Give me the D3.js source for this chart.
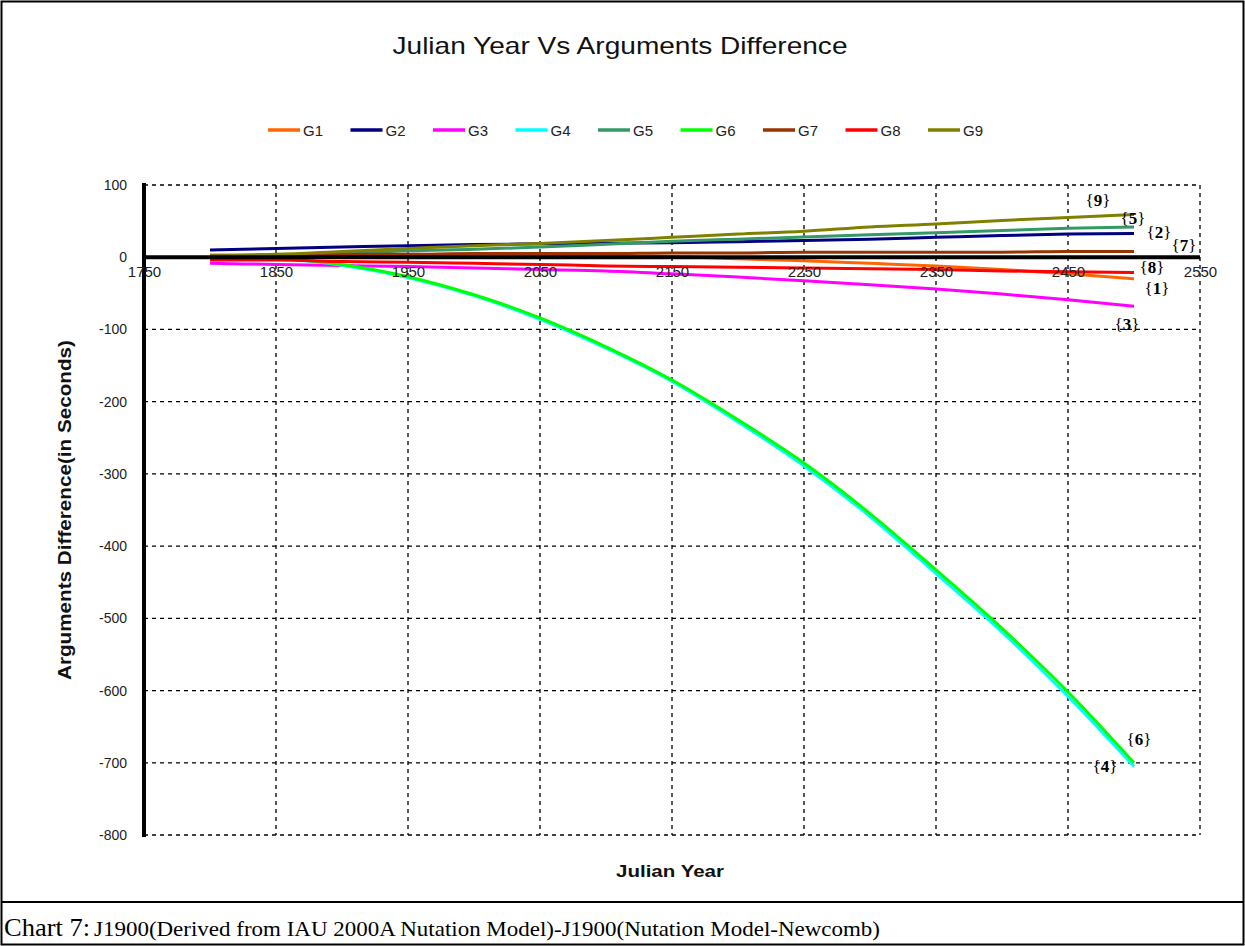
<!DOCTYPE html>
<html><head><meta charset="utf-8">
<script src="https://cdn.jsdelivr.net/npm/d3@7"></script>
<style>
html,body{margin:0;padding:0;background:#fff;}
svg{display:block;}
</style></head>
<body>
<svg id="c" width="1245" height="946"></svg>
<script>
// ---- data ----
const years = [1800,1850,1900,1950,2000,2050,2100,2150,2200,2250,2300,2350,2400,2450,2500];
const seriesNames = ["G1","G2","G3","G4","G5","G6","G7","G8","G9"];
const seriesColors = ["#FF6600","#000080","#FF00FF","#00FFFF","#339966","#00FF00","#993300","#FF0000","#808000"];
const G1 = [3,3,3,3,3,3,2,1,-2,-5,-8.5,-12,-17,-23,-30];
const G2 = [10,12,14,16,17.5,18.5,19.5,20,21.5,23,25,27.5,30,32,33];
const G3 = [-8.5,-10,-11.5,-13,-15,-17,-19,-23,-27.5,-32.5,-38,-44,-51,-59,-68];
const G4 = [-1,-2,-11,-28,-53,-86,-126,-172,-228,-289,-359,-438,-519,-608,-705];
const G5 = [0,1,5,9,11,14,18,22,25,28,31,34,37,40,42];
const G6 = [-1,-2,-10,-27,-52,-84,-124,-170,-225,-285,-355,-433,-514,-602,-700];
const G7 = [2,3,4,4,5,5,5,6,6,7,7,7,7,8,8];
const G8 = [-4,-4,-6,-7,-8.5,-10,-12,-13,-14,-15,-16,-17,-19,-20,-21];
const G9 = [2,4,8,12,16,19,23,27.5,32,36,42,46,51,55,59];
const seriesValues = [G1,G2,G3,G4,G5,G6,G7,G8,G9];
const xTicks = [1750,1850,1950,2050,2150,2250,2350,2450,2550];
const yTicks = [100,0,-100,-200,-300,-400,-500,-600,-700,-800];
const endLabels = ["1","2","3","4","5","6","7","8","9"];
// label offsets (px) from each series' last point
const labelOffsets = [[23,9],[25,-1],[-7,18],[-29,0],[-1,-9],[5,-24],[50,-6],[18,-5],[-36,-15]];

const svg = d3.select("#c");
const W = 1245, H = 946;
const SANS = "Liberation Sans, Arial, sans-serif";
const SERIF = "Liberation Serif, Times New Roman, serif";

// outer frame and caption separator
svg.append("rect").attr("x",1.5).attr("y",1.5).attr("width",W-3).attr("height",H-3)
  .attr("fill","none").attr("stroke","#000").attr("stroke-width",2);
svg.append("line").attr("x1",1).attr("x2",W-1).attr("y1",902).attr("y2",902)
  .attr("stroke","#000").attr("stroke-width",2);

const x = d3.scaleLinear().domain([1750,2550]).range([144,1200]);
const y = d3.scaleLinear().domain([100,-800]).range([185,835]);

// title
svg.append("text").attr("x",620).attr("y",54).attr("text-anchor","middle")
  .attr("font-family",SANS).attr("font-size",24)
  .attr("textLength",455).attr("lengthAdjust","spacingAndGlyphs")
  .attr("fill","#111").text("Julian Year Vs Arguments Difference");

// legend
const leg = svg.append("g");
seriesNames.forEach((n,i)=>{
  const lx = 268 + i*82.5;
  leg.append("line").attr("x1",lx).attr("x2",lx+32).attr("y1",130).attr("y2",130)
    .attr("stroke",seriesColors[i]).attr("stroke-width",3.5);
  leg.append("text").attr("x",lx+35).attr("y",135.5).attr("font-family",SANS)
    .attr("font-size",15).attr("fill","#222").text(n);
});

// grid
const grid = svg.append("g").attr("stroke","#000").attr("stroke-width",1.3).attr("stroke-dasharray","4,4");
xTicks.filter(t=>t!==1750).forEach(t=>{
  grid.append("line").attr("x1",x(t)).attr("x2",x(t)).attr("y1",y(100)).attr("y2",y(-800));
});
yTicks.filter(t=>t!==0).forEach(t=>{
  grid.append("line").attr("x1",x(1750)).attr("x2",x(2550)).attr("y1",y(t)).attr("y2",y(t));
});

// y axis
const yAxis = d3.axisLeft(y).tickValues(yTicks).tickSize(0).tickPadding(17).tickFormat(d=>String(d));
const gy = svg.append("g").attr("transform",`translate(${x(1750)},0)`).call(yAxis);
gy.select(".domain").remove();
gy.selectAll("text").attr("font-family",SANS).attr("font-size",14).attr("fill","#222");

// series lines
const line = d3.line().x((d,i)=>x(years[i])).y(d=>y(d)).curve(d3.curveMonotoneX);
seriesValues.forEach((vals,i)=>{
  svg.append("path").datum(vals).attr("d",line).attr("fill","none")
    .attr("stroke",seriesColors[i]).attr("stroke-width",3).attr("stroke-linejoin","round");
});

// thick axes lines
svg.append("line").attr("x1",x(1750)).attr("x2",x(2550)).attr("y1",y(0)).attr("y2",y(0))
  .attr("stroke","#000").attr("stroke-width",4);
svg.append("line").attr("x1",x(1750)).attr("x2",x(1750)).attr("y1",y(100)-2).attr("y2",y(-800)+2)
  .attr("stroke","#000").attr("stroke-width",4);

// x axis tick labels
const xAxis = d3.axisBottom(x).tickValues(xTicks).tickSize(0).tickPadding(9).tickFormat(d=>String(d));
const gx = svg.append("g").attr("transform",`translate(0,${y(0)})`).call(xAxis);
gx.select(".domain").remove();
gx.selectAll("text").attr("font-family",SANS).attr("font-size",15).attr("fill","#222");

// end labels
seriesValues.forEach((vals,i)=>{
  const ex = x(years[years.length-1]) + labelOffsets[i][0];
  const ey = y(vals[vals.length-1]) + labelOffsets[i][1];
  const t = svg.append("text").attr("x",ex).attr("y",ey+6).attr("text-anchor","middle")
    .attr("font-family",SERIF).attr("font-size",17).attr("fill","#000");
  t.append("tspan").attr("font-weight","normal").text("{");
  t.append("tspan").attr("font-weight","bold").text(endLabels[i]);
  t.append("tspan").attr("font-weight","normal").text("}");
});

// axis titles
svg.append("text").attr("transform",`translate(71,${(y(100)+y(-800))/2}) rotate(-90)`)
  .attr("text-anchor","middle").attr("font-family",SANS)
  .attr("font-weight","bold").attr("font-size",18).attr("fill","#111")
  .attr("textLength",340).attr("lengthAdjust","spacingAndGlyphs")
  .text("Arguments Difference(in Seconds)");
svg.append("text").attr("x",670).attr("y",877).attr("text-anchor","middle")
  .attr("font-family",SANS).attr("font-weight","bold")
  .attr("font-size",17).attr("fill","#111")
  .attr("textLength",108).attr("lengthAdjust","spacingAndGlyphs").text("Julian Year");

// caption
svg.append("text").attr("x",4).attr("y",936).attr("font-family",SERIF).attr("fill","#000")
  .attr("font-size",26).attr("textLength",86).attr("lengthAdjust","spacingAndGlyphs").text("Chart 7:");
svg.append("text").attr("x",94).attr("y",936).attr("font-family",SERIF).attr("fill","#000")
  .attr("font-size",21).attr("textLength",786).attr("lengthAdjust","spacingAndGlyphs")
  .text("J1900(Derived from IAU 2000A Nutation Model)-J1900(Nutation Model-Newcomb)");
</script>
</body></html>
